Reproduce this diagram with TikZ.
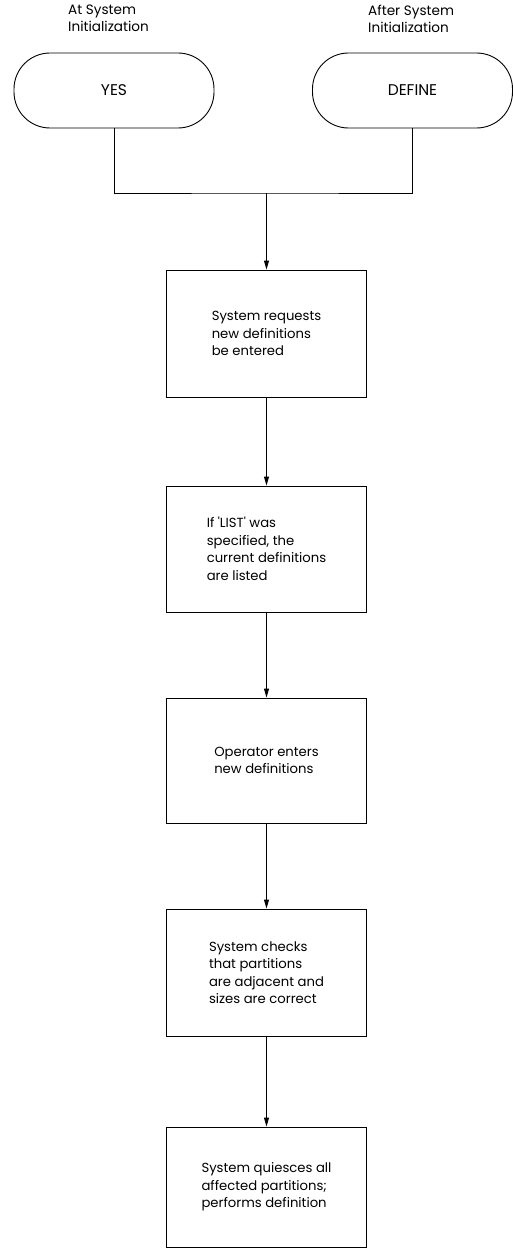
\documentclass[tikz,border=0pt]{standalone}
\usepackage{fontspec}
\setmainfont{Poppins}
\usetikzlibrary{arrows.meta}
\begin{document}
\begin{tikzpicture}[x=1pt,y=-1pt,
  every node/.style={font=\fontsize{13.2}{17.5}\selectfont, inner sep=0pt},
  term/.style={draw, line width=0.9pt, rounded corners=36pt, minimum width=200pt, minimum height=75pt, font=\fontsize{15.5}{18}\selectfont},
  procbox/.style={draw, line width=0.9pt, minimum width=200pt},
  lbl/.style={align=left, anchor=north west, font=\fontsize{13.6}{17}\selectfont},
  txt/.style={align=left},
  conn/.style={line width=0.9pt},
  arr/.style={line width=0.9pt, -{Triangle[length=9pt,width=5pt]}}
]
\useasboundingbox (0,0) rectangle (513,1249);
\node[lbl] (l1) at (68,5) {At System\\Initialization};
\node[lbl] (l2) at (368,5) {After System\\Initialization};
\node[term] (yes) at (114,90.5) {YES};
\node[term] (def) at (412.5,90.5) {DEFINE};
\coordinate (j) at (266.5,193);
\node[procbox, minimum height=127pt] (b1) at (266.5,333.5) {};
\node[txt] at (b1.center) {System requests\\new definitions\\be entered};
\node[procbox, minimum height=126pt] (b2) at (266.5,549) {};
\node[txt] at (b2.center) {If \textquotesingle LIST\textquotesingle\ was\\specified, the\\current definitions\\are listed};
\node[procbox, minimum height=125pt] (b3) at (266.5,760.5) {};
\node[txt] at (b3.center) {Operator enters\\new definitions};
\node[procbox, minimum height=127pt] (b4) at (266.5,972.5) {};
\node[txt] at (b4.center) {System checks\\that partitions\\are adjacent and\\sizes are correct};
\node[procbox, minimum height=120pt] (b5) at (266.5,1187) {};
\node[txt] at (b5.center) {System quiesces all\\affected partitions;\\performs definition};
\draw[conn] (yes.south) |- (j) -| (def.south);
\draw[arr] (j) -- (b1.north);
\draw[arr] (b1.south) -- (b2.north);
\draw[arr] (b2.south) -- (b3.north);
\draw[arr] (b3.south) -- (b4.north);
\draw[arr] (b4.south) -- (b5.north);
\end{tikzpicture}
\end{document}
